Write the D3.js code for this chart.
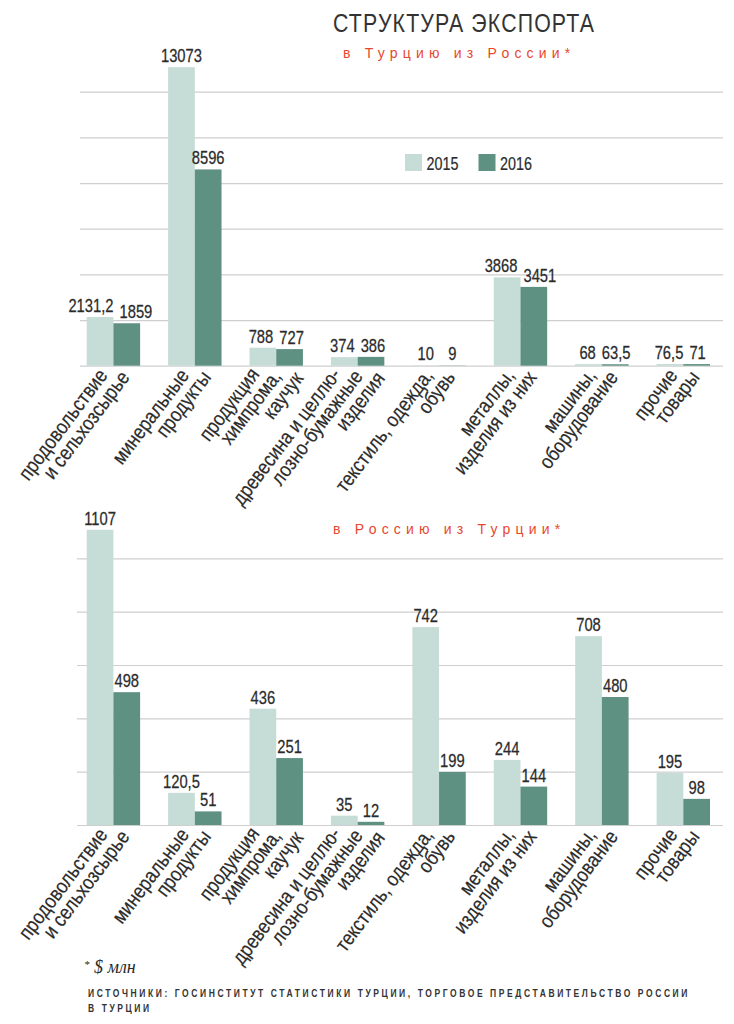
<!DOCTYPE html>
<html><head><meta charset="utf-8">
<script src="https://cdn.jsdelivr.net/npm/d3@7"></script>
<style>
body{margin:0;background:#fff;}
svg{display:block;}
</style></head>
<body>
<svg id="chart" width="734" height="1024"></svg>
<script>
// ---- data ----
const categories = [
  "продовольствие\nи сельхозсырье",
  "минеральные\nпродукты",
  "продукция\nхимпрома,\nкаучук",
  "древесина и целлю-\nлозно-бумажные\nизделия",
  "текстиль, одежда,\nобувь",
  "металлы,\nизделия из них",
  "машины,\nоборудование",
  "прочие\nтовары"
];
const years = ["2015", "2016"];
const toTurkey2015 = [2131.2, 13073, 788, 374, 10, 3868, 68, 76.5];
const toTurkey2016 = [1859, 8596, 727, 386, 9, 3451, 63.5, 71];
const toRussia2015 = [1107, 120.5, 436, 35, 742, 244, 708, 195];
const toRussia2016 = [498, 51, 251, 12, 199, 144, 480, 98];
const topTicks = [0, 2000, 4000, 6000, 8000, 10000, 12000];
const bottomTicks = [0, 200, 400, 600, 800, 1000];

const title = "СТРУКТУРА ЭКСПОРТА";
const subtitleTop = "в Турцию из России*";
const subtitleBottom = "в Россию из Турции*";
const unitNote = "$ млн";
const sourceLines = ["ИСТОЧНИКИ: ГОСИНСТИТУТ СТАТИСТИКИ ТУРЦИИ, ТОРГОВОЕ ПРЕДСТАВИТЕЛЬСТВО РОССИИ", "В ТУРЦИИ"];

// ---- styles ----
const colors = {"2015": "#c6dcd6", "2016": "#5f9183"};
const textColor = "#2b2b2b";
const gridColor = "#cfcfcf";
const red = "#e8472d";
const sans = "'Liberation Sans', Arial, sans-serif";
const SX = 0.82; // horizontal condense factor

const svg = d3.select("#chart");
const fmt = v => String(v).replace(".", ",");

// condensed text helper
function ctext(parent, str, x, y, size, opts = {}) {
  const sx = opts.sx ?? SX;
  const t = parent.append("text").text(str)
    .attr("font-family", sans).attr("font-size", size)
    .attr("fill", opts.fill || textColor)
    .attr("text-anchor", opts.anchor || "start")
    .attr("font-weight", opts.weight || "normal")
    .attr("transform", `translate(${x},${y})` + (opts.rotate ? ` rotate(${opts.rotate})` : "") + ` scale(${sx},1)`);
  if (opts.ls) t.attr("letter-spacing", opts.ls);
  if (opts.stroke) t.attr("stroke", opts.fill || textColor).attr("stroke-width", opts.stroke);
  return t;
}

const x0 = d3.scaleBand().domain(d3.range(categories.length)).range([86.7, 710]).paddingInner(0.344).paddingOuter(0);
const x1 = d3.scaleBand().domain(years).range([0, x0.bandwidth()]).padding(0);

function drawPanel(s15, s16, ticks, yRange, gridX) {
  const y = d3.scaleLinear().domain([0, ticks[ticks.length - 1]]).range(yRange);
  const g = svg.append("g");
  const ga = g.append("g").attr("transform", `translate(${gridX[1]},0)`)
    .call(d3.axisRight(y).tickValues(ticks).tickSize(-(gridX[1] - gridX[0])).tickFormat(""));
  ga.select(".domain").remove();
  ga.selectAll(".tick line").attr("stroke", gridColor).attr("stroke-width", 1.2);

  const rows = categories.map((c, i) => ({i, vals: [{k: "2015", v: s15[i]}, {k: "2016", v: s16[i]}]}));
  const grp = g.selectAll(".grp").data(rows).join("g").attr("transform", d => `translate(${x0(d.i)},0)`);
  grp.selectAll("rect").data(d => d.vals).join("rect")
    .attr("x", d => x1(d.k)).attr("width", x1.bandwidth())
    .attr("y", d => y(d.v)).attr("height", d => y(0) - y(d.v))
    .attr("fill", d => colors[d.k]);

  // value labels with simple collision avoidance
  rows.forEach(r => {
    const labs = r.vals.map(d => {
      const cx = x0(r.i) + x1(d.k) + x1.bandwidth() / 2;
      const base = y(d.v) - 5;
      const t = ctext(g, fmt(d.v), cx, base, 18, {anchor: "middle", stroke: 0.25});
      const w = t.node().getComputedTextLength() * SX;
      return {t, w, cx, base};
    });
    const [a, b] = labs;
    const vOverlap = Math.abs(a.base - b.base) < 14;
    const need = a.w / 2 + b.w / 2 + 6;
    const have = b.cx - a.cx;
    if (vOverlap && need > have) {
      const push = (need - have) / 2;
      a.cx -= push; b.cx += push;
    }
    labs.forEach(l => l.t.attr("transform", `translate(${l.cx},${l.base}) scale(${SX},1)`));
  });

  // category labels
  const base = y(0);
  categories.forEach((c, i) => {
    const lines = c.split("\n");
    const n = lines.length;
    const cx = x0(i) + x0.bandwidth() / 2;
    lines.forEach((ln, j) => {
      const k = j - (n - 1) / 2;
      const ax = cx + 6 + k * 22;
      const ay = base + 11 + k * 2;
      ctext(g, ln, ax, ay, 20.5, {anchor: "end", rotate: -53, sx: 0.86, stroke: 0.2});
    });
  });
  return y;
}

drawPanel(toTurkey2015, toTurkey2016, topTicks, [365.7, 91.7], [80, 723]);
drawPanel(toRussia2015, toRussia2016, bottomTicks, [825, 558.3], [77, 723]);

// titles
ctext(svg, title, 333, 32, 26, {ls: 1.4, fill: "#333"});
svg.append("text").text(subtitleTop).attr("x", 343).attr("y", 58)
  .attr("font-family", sans).attr("font-size", 14).attr("letter-spacing", 5.2).attr("fill", red);
svg.append("text").text(subtitleBottom).attr("x", 333).attr("y", 534)
  .attr("font-family", sans).attr("font-size", 14).attr("letter-spacing", 5.2).attr("fill", red);

// legend
const leg = svg.append("g");
const legX = {"2015": 405, "2016": 478.5};
years.forEach(k => {
  leg.append("rect").attr("x", legX[k]).attr("y", 154).attr("width", 17).attr("height", 17).attr("fill", colors[k]);
  ctext(leg, k, legX[k] + 21.5, 170, 17.5, {stroke: 0.2});
});

// footer
const note = svg.append("text").attr("x", 84).attr("y", 973).attr("fill", textColor)
  .attr("font-family", "'Liberation Serif', serif").attr("font-style", "italic");
note.append("tspan").text("*").attr("font-size", 11).attr("dy", -5);
note.append("tspan").text(" " + unitNote).attr("font-size", 18).attr("dy", 5);

// source lines: same letter-spacing, first line fits 88..690
const srcSX = 0.85;
const probe = ctext(svg, sourceLines[0], 88, 997, 10, {weight: "bold", sx: srcSX, fill: "#333"});
const natural = probe.node().getComputedTextLength();
const ls = (602 / srcSX - natural) / sourceLines[0].length;
probe.attr("letter-spacing", ls);
ctext(svg, sourceLines[1], 88, 1012, 10, {weight: "bold", sx: srcSX, fill: "#333", ls: ls});
</script>
</body></html>
